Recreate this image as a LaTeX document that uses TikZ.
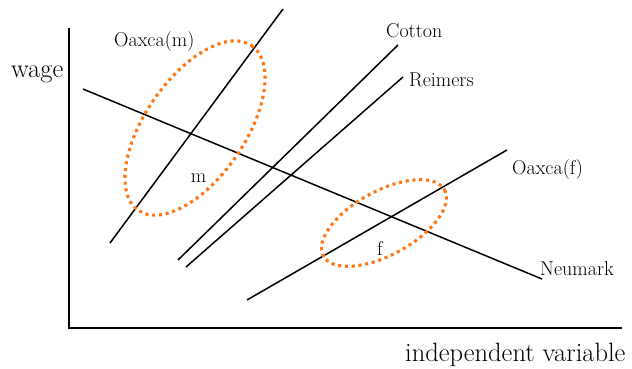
\documentclass[tikz,border=0pt]{standalone}
\definecolor{dotorange}{RGB}{255,118,18}
\tikzset{
  axisline/.style={line width=2pt},
  trend/.style={line width=1.5pt},
  ring/.style={draw=dotorange, line width=3.1pt, dash pattern=on 3.1pt off 3.7pt},
  lbl/.style={inner sep=0pt, anchor=base west, font=\fontsize{20}{24}\selectfont},
  axlbl/.style={inner sep=0pt, anchor=base west, font=\fontsize{26.5}{30}\selectfont},
  ptlbl/.style={inner sep=0pt, anchor=base, font=\fontsize{20}{24}\selectfont}
}
\begin{document}
\begin{tikzpicture}[x=1pt,y=-1pt]
\useasboundingbox (0,0) rectangle (632,368);
% axes
\coordinate (ytop) at (69,28);
\coordinate (origin) at (69,328);
\coordinate (xend) at (622,328);
\draw[axisline] (ytop) -- (origin) -- (xend);
% line end points
\coordinate (om1) at (110,243); \coordinate (om2) at (283,9);
\coordinate (ne1) at (83,89);   \coordinate (ne2) at (542,279);
\coordinate (co1) at (178,260); \coordinate (co2) at (398,45);
\coordinate (re1) at (186,267); \coordinate (re2) at (403,77);
\coordinate (of1) at (247,300); \coordinate (of2) at (507,150);
\draw[trend] (om1) -- (om2);
\draw[trend] (ne1) -- (ne2);
\draw[trend] (co1) -- (co2);
\draw[trend] (re1) -- (re2);
\draw[trend] (of1) -- (of2);
% ellipses
\coordinate (mc) at (195,128);
\coordinate (fc) at (384,223);
\draw[ring, rotate around={55.5:(mc)}] (mc) ellipse [x radius=100, y radius=50];
\draw[ring, rotate around={28.6:(fc)}] (fc) ellipse [x radius=69, y radius=32];
% labels
\node[axlbl] (wage) at (11,77) {wage};
\node[axlbl] (indep) at (405,361) {independent variable};
\node[lbl] (loam) at (114,46) {Oaxca(m)};
\node[lbl] (loco) at (386,37) {Cotton};
\node[lbl] (lore) at (409,86) {Reimers};
\node[lbl] (loaf) at (512,174) {Oaxca(f)};
\node[lbl] (lone) at (540,275) {Neumark};
\node[ptlbl] (lm) at (198.5,182) {m};
\node[ptlbl] (lf) at (380,255) {f};
\end{tikzpicture}
\end{document}
